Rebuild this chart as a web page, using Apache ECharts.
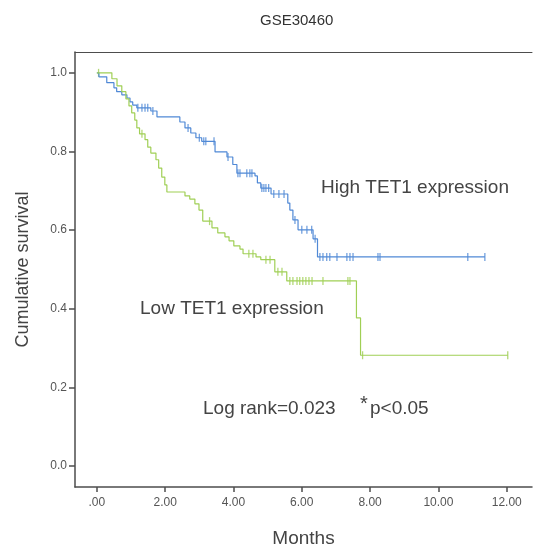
<!DOCTYPE html>
<html>
<head>
<meta charset="utf-8">
<title>GSE30460</title>
<script src="https://cdn.jsdelivr.net/npm/echarts@6/dist/echarts.min.js"></script>
<style>
html,body{margin:0;padding:0;background:#fff;}
#main{width:535px;height:545px;}
</style>
</head>
<body>
<div id="main"></div>
<script>
'use strict';
// KM steps: time (months) and survival after each drop
var highT=[0,0.06,0.29,0.50,0.58,0.73,0.88,0.97,1.05,1.17,1.58,1.76,2.43,2.58,2.75,2.90,3.07,3.46,3.81,3.98,4.10,4.63,4.70,4.80,5.10,5.59,5.65,5.74,5.89,6.33,6.46,11.36];
var highS=[1,0.990,0.975,0.962,0.952,0.944,0.936,0.926,0.918,0.911,0.903,0.888,0.875,0.860,0.847,0.835,0.826,0.799,0.786,0.767,0.745,0.738,0.720,0.707,0.692,0.669,0.651,0.626,0.601,0.578,0.532,0.532];
var highCensorT=[1.20,1.32,1.41,1.49,1.64,2.67,3.00,3.13,3.19,3.43,3.84,4.13,4.19,4.39,4.48,4.54,4.83,4.89,4.95,5.03,5.18,5.33,5.48,5.80,6.00,6.15,6.29,6.39,6.53,6.62,6.73,6.82,7.03,7.32,7.41,7.50,8.23,8.29,10.86,11.36];
var highCensorS=[0.911,0.911,0.911,0.911,0.903,0.860,0.835,0.826,0.826,0.826,0.786,0.745,0.745,0.745,0.745,0.745,0.707,0.707,0.707,0.707,0.692,0.692,0.692,0.626,0.601,0.601,0.601,0.578,0.532,0.532,0.532,0.532,0.532,0.532,0.532,0.532,0.532,0.532,0.532,0.532];

var lowT=[0,0.44,0.59,0.73,0.85,0.94,1.02,1.11,1.17,1.25,1.41,1.49,1.58,1.73,1.81,1.90,1.99,2.05,2.58,2.72,2.87,2.99,3.10,3.37,3.54,3.75,3.87,4.01,4.19,4.28,4.66,4.80,5.21,5.56,7.60,7.72,12.03];
var lowS=[1,0.985,0.967,0.952,0.934,0.916,0.898,0.880,0.860,0.845,0.830,0.811,0.796,0.779,0.758,0.735,0.715,0.697,0.687,0.679,0.667,0.651,0.623,0.606,0.593,0.583,0.573,0.560,0.552,0.540,0.532,0.525,0.494,0.471,0.377,0.282,0.282];
var lowCensorT=[0.05,1.32,3.30,4.45,4.57,4.95,5.07,5.30,5.42,5.65,5.74,5.86,5.94,6.03,6.12,6.21,6.30,6.62,7.35,7.41,7.78,12.03];
var lowCensorS=[1.0,0.845,0.623,0.540,0.540,0.525,0.525,0.494,0.494,0.471,0.471,0.471,0.471,0.471,0.471,0.471,0.471,0.471,0.471,0.471,0.282,0.282];

var xTicks=[0,2,4,6,8,10,12];
var yTicks=[0,0.2,0.4,0.6,0.8,1.0];

var blue='#5089d6',green='#a0cf55';
var font='Liberation Sans, Arial, sans-serif';

var pairs=function(a,b){
	return a.map(function(v,i){return [v,b[i]];});
};

var axisLineStyle={color:'#4d4d4d',width:1.5};

var option={
	animation:false,
	backgroundColor:'#fff',
	title:{
		text:'GSE30460',
		left:255,
		top:8,
		textStyle:{fontFamily:font,fontSize:15,fontWeight:'normal',color:'#333'}
	},
	grid:{left:75,right:3,top:52,bottom:58,outerBoundsMode:'none',containLabel:false},
	xAxis:[{
		type:'value',
		min:-0.64,
		max:12.74,
		name:'Months',
		nameLocation:'middle',
		nameGap:42,
		nameTextStyle:{fontFamily:font,fontSize:19,color:'#444'},
		axisLine:{show:true,onZero:false,lineStyle:axisLineStyle},
		axisTick:{show:true,length:5,customValues:xTicks,lineStyle:axisLineStyle},
		axisLabel:{customValues:xTicks,margin:10,fontFamily:font,fontSize:12,color:'#555',
			formatter:function(v){return v===0?'.00':v.toFixed(2);}},
		splitLine:{show:false}
	},{
		// top border of the frame
		type:'value',
		position:'top',
		min:-0.64,
		max:12.74,
		axisLine:{show:true,onZero:false,lineStyle:{color:'#4d4d4d',width:1}},
		axisTick:{show:false},
		axisLabel:{show:false},
		splitLine:{show:false}
	}],
	yAxis:{
		type:'value',
		min:-0.053,
		max:1.053,
		name:'Cumulative survival',
		nameLocation:'middle',
		nameGap:43,
		nameTextStyle:{fontFamily:font,fontSize:18,color:'#444'},
		axisLine:{show:true,onZero:false,lineStyle:axisLineStyle},
		axisTick:{show:true,length:6,customValues:yTicks,lineStyle:axisLineStyle},
		axisLabel:{customValues:yTicks,margin:8,fontFamily:font,fontSize:12,color:'#555',
			formatter:function(v){return v.toFixed(1);}},
		splitLine:{show:false}
	},
	series:[{
		name:'High TET1 expression',
		type:'line',
		step:'end',
		symbol:'none',
		lineStyle:{color:blue,width:1.2},
		data:pairs(highT,highS)
	},{
		name:'Low TET1 expression',
		type:'line',
		step:'end',
		symbol:'none',
		lineStyle:{color:green,width:1.2},
		data:pairs(lowT,lowS)
	},{
		name:'High censored',
		type:'scatter',
		symbol:'rect',
		symbolSize:[1.3,8],
		itemStyle:{color:blue},
		data:pairs(highCensorT,highCensorS)
	},{
		name:'Low censored',
		type:'scatter',
		symbol:'rect',
		symbolSize:[1.3,8],
		itemStyle:{color:green},
		data:pairs(lowCensorT,lowCensorS)
	}],
	graphic:[
		{type:'text',left:321,top:178,style:{text:'High TET1 expression',font:'19px '+font,fill:'#444'}},
		{type:'text',left:140,top:299,style:{text:'Low TET1 expression',font:'19px '+font,fill:'#444'}},
		{type:'text',left:203,top:399,style:{text:'Log rank=0.023',font:'19px '+font,fill:'#444'}},
		{type:'text',left:360,top:394,style:{text:'*',font:'20px '+font,fill:'#444'}},
		{type:'text',left:370,top:399,style:{text:'p<0.05',font:'19px '+font,fill:'#444'}}
	]
};

var myChart=echarts.init(document.getElementById('main'));
myChart.setOption(option);
</script>
</body>
</html>
